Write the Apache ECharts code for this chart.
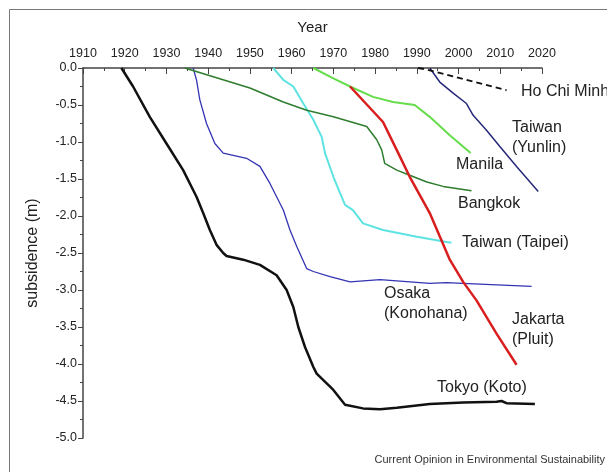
<!DOCTYPE html>
<html><head><meta charset="utf-8">
<script src="https://cdn.jsdelivr.net/npm/echarts@6/dist/echarts.min.js"></script>
<style>html,body{margin:0;padding:0;background:#fff}#c{width:607px;height:472px}</style>
</head><body><div id="c"></div>
<script>
// [year, subsidence (m)]
const tokyo = [[1919.2,0],[1922.0,-0.25],[1926.0,-0.66],[1930.0,-1.02],[1934.0,-1.38],[1937.2,-1.74],[1938.8,-1.96],[1940.4,-2.19],[1942.0,-2.39],[1943.6,-2.50],[1944.4,-2.54],[1948.4,-2.59],[1952.4,-2.66],[1956.4,-2.80],[1958.8,-3.0],[1960.4,-3.23],[1961.6,-3.50],[1963.2,-3.77],[1965.2,-4.04],[1966.0,-4.13],[1970.0,-4.35],[1972.8,-4.55],[1977.1,-4.60],[1981.2,-4.61],[1985.2,-4.59],[1993.1,-4.54],[2001.1,-4.52],[2009.1,-4.51],[2010.3,-4.50],[2011.5,-4.53],[2018.3,-4.54]];
const osaka = [[1936.4,0],[1937.2,-0.16],[1938.0,-0.43],[1939.6,-0.75],[1941.6,-1.02],[1943.6,-1.15],[1946.0,-1.18],[1949.2,-1.22],[1952.4,-1.33],[1954.8,-1.56],[1958.0,-1.92],[1959.6,-2.19],[1961.2,-2.41],[1963.6,-2.71],[1965.2,-2.75],[1969.2,-2.82],[1974.0,-2.89],[1981.2,-2.86],[1993.1,-2.91],[1997.1,-2.90],[2005.1,-2.92],[2017.5,-2.95]];
const taipei = [[1955.6,0],[1958.0,-0.16],[1960.4,-0.25],[1962.8,-0.48],[1965.2,-0.70],[1967.2,-0.93],[1968.0,-1.15],[1970.0,-1.47],[1971.6,-1.69],[1972.8,-1.85],[1974.7,-1.92],[1977.1,-2.10],[1981.9,-2.19],[1990.0,-2.28],[1997.1,-2.35],[1998.3,-2.36]];
const bangkok = [[1934.4,0],[1950.0,-0.27],[1958.0,-0.46],[1963.6,-0.57],[1970.0,-0.66],[1978.0,-0.79],[1980.4,-0.97],[1981.6,-1.11],[1982.3,-1.29],[1985.2,-1.38],[1988.3,-1.45],[1992.4,-1.54],[1996.3,-1.60],[2003.1,-1.66]];
const manila = [[1965.2,0],[1970.0,-0.14],[1974.0,-0.25],[1979.5,-0.39],[1984.3,-0.46],[1989.5,-0.50],[1993.1,-0.66],[1997.9,-0.91],[2002.9,-1.15]];
const jakarta = [[1974.0,-0.25],[1981.9,-0.73],[1985.2,-1.11],[1988.3,-1.47],[1993.1,-1.96],[1997.9,-2.59],[2001.1,-2.89],[2004.3,-3.14],[2009.1,-3.59],[2013.9,-4.01]];
const yunlin = [[1993.1,0],[1995.5,-0.19],[1998.7,-0.34],[2001.9,-0.48],[2003.5,-0.64],[2006.7,-0.84],[2009.9,-1.06],[2013.9,-1.33],[2019.1,-1.67]];
const hoChiMinh = [[1990.3,0],[1992.3,-0.02],[2011.5,-0.30]];

const xTicks = [1910,1920,1930,1940,1950,1960,1970,1980,1990,2000,2010,2020];
const yTicks = [0,-0.5,-1,-1.5,-2,-2.5,-3,-3.5,-4,-4.5,-5];

const labels = [
  {t:'Ho Chi Minh', x:521, y:92},
  {t:'Taiwan', x:512, y:128},
  {t:'(Yunlin)', x:512, y:148},
  {t:'Manila', x:456, y:165},
  {t:'Bangkok', x:458, y:204},
  {t:'Taiwan (Taipei)', x:462, y:243},
  {t:'Osaka', x:384, y:294},
  {t:'(Konohana)', x:384, y:314},
  {t:'Jakarta', x:512, y:320},
  {t:'(Pluit)', x:512, y:340},
  {t:'Tokyo (Koto)', x:437, y:388}
];

const FONT = '"Liberation Sans", Arial, sans-serif';
function line(data, color, width, dashed) {
  return {type:'line', data, showSymbol:false, smooth:false, animation:false,
    lineStyle:{color, width, type: dashed ? [6,4] : 'solid'}};
}
const chart = echarts.init(document.getElementById('c'));
chart.setOption({
  backgroundColor:'#fff',
  animation:false,
  grid:{left:83, right:65, top:68, bottom:34},
  xAxis:{type:'value', position:'top', min:xTicks[0], max:xTicks[xTicks.length-1], interval:10,
    name:'Year', nameLocation:'middle', nameGap:33,
    nameTextStyle:{fontFamily:FONT, fontSize:15, color:'#222'},
    axisLine:{lineStyle:{color:'#444', width:1.5}},
    axisTick:{inside:true, length:6, lineStyle:{color:'#444'}},
    minorTick:{show:true, splitNumber:2, length:3, lineStyle:{color:'#444'}},
    splitLine:{show:false},
    axisLabel:{fontFamily:FONT, fontSize:12.5, color:'#222', margin:8, formatter:v=>String(v)}},
  yAxis:{type:'value', min:yTicks[yTicks.length-1], max:yTicks[0], interval:0.5,
    name:'subsidence (m)', nameLocation:'middle', nameGap:42,
    nameTextStyle:{fontFamily:FONT, fontSize:16, color:'#222'},
    axisLine:{show:true, lineStyle:{color:'#444', width:1.5}},
    axisTick:{show:true, length:5, lineStyle:{color:'#444'}},
    minorTick:{show:true, splitNumber:2, length:3, lineStyle:{color:'#444'}},
    splitLine:{show:false},
    axisLabel:{fontFamily:FONT, fontSize:12.5, color:'#222', margin:6, formatter:v=>v.toFixed(1)}},
  series:[
    line(tokyo,'#111111',2.5),
    line(osaka,'#3333b3',1.3),
    line(taipei,'#5ee3e3',2),
    line(bangkok,'#2e7d2e',1.5),
    line(manila,'#66dd4a',2),
    line(jakarta,'#d81e1e',2.5),
    line(yunlin,'#28287a',1.5),
    line(hoChiMinh,'#111111',2,true)
  ],
  graphic:[
    {type:'rect', shape:{x:9.5,y:9.5,width:700,height:600}, style:{fill:'none', stroke:'#777', lineWidth:1}, silent:true, z:-1},
    ...labels.map(l=>({type:'text', x:l.x, y:l.y, style:{text:l.t, font:'16px '+FONT, fill:'#222', verticalAlign:'middle', textAlign:'left'}})),
    {type:'text', x:605, y:460, style:{text:'Current Opinion in Environmental Sustainability', font:'11px "Liberation Sans Narrow", '+FONT, fill:'#333', textAlign:'right', verticalAlign:'middle'}}
  ]
});
</script></body></html>
